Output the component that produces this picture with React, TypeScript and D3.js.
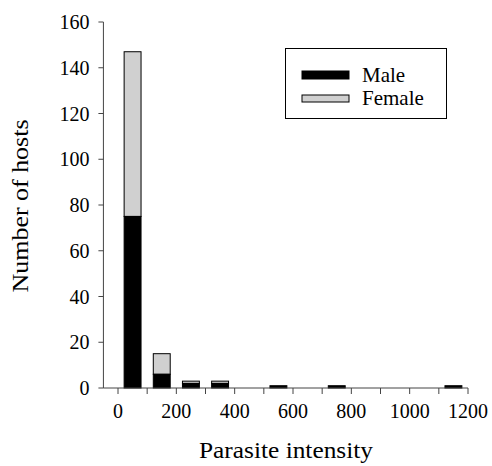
import React from 'react';
import * as d3 from 'd3';

// bin centres (parasite intensity) and counts
const binCentres = [50, 150, 250, 350, 550, 750, 1150];
const maleCounts = [75, 6, 2, 2, 1, 1, 1];
const femaleCounts = [72, 9, 1, 1, 0, 0, 0];
const xTickLabels = [0, 200, 400, 600, 800, 1000, 1200];
const yTickLabels = [0, 20, 40, 60, 80, 100, 120, 140, 160];

const W = 492, H = 466;
const FONT = '"Liberation Serif", "Times New Roman", serif';

export default function App() {
  const x = d3.scaleLinear().domain([0, 1200]).range([118, 468]);
  const y = d3.scaleLinear().domain([0, 160]).range([388, 22]);
  const barW = x(58) - x(0);
  const axisLeft = x(-50);
  const minorTicks = d3.range(0, 1201, 100);

  return (
    <svg width={W} height={H} style={{ position: 'absolute', left: 0, top: 0, background: '#fff' }}>
      {/* bars */}
      {binCentres.map((c, i) => {
        const m = maleCounts[i];
        const f = femaleCounts[i];
        const x0 = x(c) - barW / 2;
        return (
          <g key={c}>
            {f > 0 && (
              <rect x={x0} y={y(m + f)} width={barW} height={y(m) - y(m + f)}
                fill="#d0d0d0" stroke="#000" strokeWidth={1} />
            )}
            <rect x={x0} y={y(m)} width={barW} height={y(0) - y(m)}
              fill="#000" stroke="#000" strokeWidth={1} />
          </g>
        );
      })}

      {/* y axis */}
      <line x1={axisLeft} x2={axisLeft} y1={y(160)} y2={y(0)} stroke="#444" strokeWidth={1} />
      {yTickLabels.map(v => (
        <g key={v}>
          <line x1={axisLeft - 5} x2={axisLeft} y1={y(v)} y2={y(v)} stroke="#444" />
          <text x={axisLeft - 14} y={y(v)} dy="0.35em" textAnchor="end"
            fontFamily={FONT} fontSize={20}>{v}</text>
        </g>
      ))}

      {/* x axis */}
      <line x1={axisLeft} x2={x(1200)} y1={y(0)} y2={y(0)} stroke="#444" strokeWidth={1} />
      {minorTicks.map(v => (
        <line key={v} x1={x(v)} x2={x(v)} y1={y(0)} y2={y(0) + 6} stroke="#444" />
      ))}
      {xTickLabels.map(v => (
        <text key={v} x={x(v)} y={y(0) + 30} textAnchor="middle"
          fontFamily={FONT} fontSize={20}>{v}</text>
      ))}

      {/* titles */}
      <text x={286} y={458} textAnchor="middle" fontFamily={FONT} fontSize={23}
        textLength={174} lengthAdjust="spacingAndGlyphs">Parasite intensity</text>
      <text transform={`translate(28, 206) rotate(-90)`} textAnchor="middle"
        fontFamily={FONT} fontSize={23} textLength={173} lengthAdjust="spacingAndGlyphs">Number of hosts</text>

      {/* legend */}
      <rect x={285.5} y={48.5} width={161} height={70} fill="#fff" stroke="#000" strokeWidth={1} />
      <rect x={302} y={71} width={47} height={8} fill="#000" stroke="#000" />
      <text x={362} y={75} dy="0.35em" fontFamily={FONT} fontSize={21}>Male</text>
      <rect x={302} y={95} width={47} height={7} fill="#d0d0d0" stroke="#000" />
      <text x={362} y={98} dy="0.35em" fontFamily={FONT} fontSize={21}>Female</text>
    </svg>
  );
}
